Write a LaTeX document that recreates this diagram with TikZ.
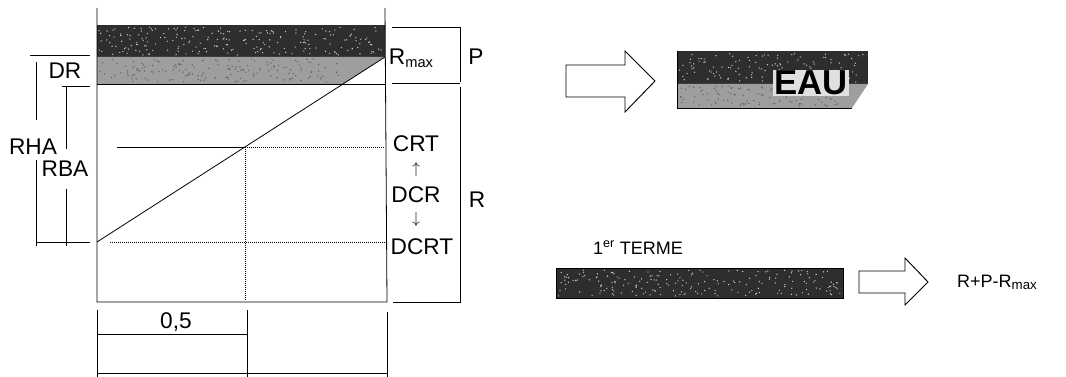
\documentclass[tikz,border=0pt]{standalone}
\usepackage{fontspec}
\setmainfont{Liberation Sans}
\usepackage{tikz}

\begin{document}
\begin{tikzpicture}[x=0.75pt, y=-0.75pt, line width=0.6pt,
  lab/.style={font=\fontsize{17}{19}\selectfont, inner sep=0pt},
  sml/.style={font=\fontsize{13.5}{15}\selectfont, inner sep=0pt},
  arr/.style={font=\fontsize{13}{14}\selectfont, inner sep=0pt},
  darkband/.style={fill=black!82},
  lightband/.style={fill=black!38},
  speck/.style={fill=white!80!black},
  dotline/.style={densely dotted, line width=0.5pt},
  blockarrow/.style={draw, fill=white, line width=0.7pt}]
\useasboundingbox (0,0) rectangle (1066,377);
\pgfmathsetseed{7}
% reservoir
\fill[darkband] (97,25) rectangle (385,57);
\foreach \k in {1,...,220}
  \fill[speck] ({99+284*rnd},{27+28*rnd}) circle (0.7);
\fill[lightband] (97,57) -- (385,57) -- (343,84) -- (97,84) -- cycle;
\foreach \k in {1,...,160}
  \fill[black!60] ({99+240*rnd},{59+23*rnd}) circle (0.8);
\draw (97,8) -- (97,302) -- (387,302) -- (385,8);
\draw (97,84) -- (385,84);
\draw (97,242) -- (385,57);
\draw (117,147) -- (245,147);
\draw[dotline] (245,147) -- (385,147);
\draw[dotline] (245,147) -- (245,300);
\draw[dotline] (110,242) -- (385,242);
% left dimensions
\node[lab] (dr) at (65,71) {DR};
\node[lab] (rha) at (33,147) {RHA};
\node[lab] (rba) at (65,169) {RBA};
\draw (30,55) -- (90,55);
\draw (62,86) -- (90,86);
\draw (36,62) -- (36,120);
\draw (36,160) -- (36,242);
\draw (66,86) -- (66,149);
\draw (66,189) -- (66,242);
\draw (36,242) -- (90,242);
\draw (36,239) -- (36,246) (66,239) -- (66,246);
% right column
\node[lab] (rmax) at (411,58) {R\raisebox{-0.25ex}{\fontsize{11}{12}\selectfont max}};
\node[lab] (p) at (476,57) {P};
\node[lab] (crt) at (416,144) {CRT};
\node[arr] (up) at (416,170) {$\uparrow$};
\node[lab] (dcr) at (416,195) {DCR};
\node[arr] (down) at (416,220) {$\downarrow$};
\node[lab] (dcrt) at (422,247) {DCRT};
\node[lab] (r) at (477,200) {R};
\draw (392,27) -- (460,27) -- (460,82);
\draw (392,83) -- (460,83);
\draw (460,87) -- (460,302) -- (393,302);
% bottom dimensions
\node[lab] (half) at (176,322) {0,5};
\draw (97,310) -- (97,377);
\draw (247,310) -- (247,377);
\draw (387,312) -- (387,377);
\draw (97,334) -- (247,334);
\draw (97,373) -- (387,373);
% eau
\draw[blockarrow] (566,65) -- (625,65) -- (625,51) -- (655,81) -- (625,112) -- (625,97) -- (566,97) -- cycle;
\fill[darkband] (677,51) rectangle (868,84);
\foreach \k in {1,...,120}
  \fill[speck] ({679+186*rnd},{53+29*rnd}) circle (0.7);
\fill[lightband] (677,84) -- (868,84) -- (852,108) -- (677,108) -- cycle;
\foreach \k in {1,...,110}
  \fill[black!60] ({679+170*rnd},{86+20*rnd}) circle (0.8);
\draw (677,51) -- (677,108) -- (852,108);
\node[font=\fontsize{26}{28}\selectfont\bfseries, fill=black!12, inner sep=1pt] (eau) at (811,83) {EAU};
% premier terme
\node[sml] (terme) at (638,248) {1\textsuperscript{er} TERME};
\fill[darkband] (556,268) rectangle (843,298);
\foreach \k in {1,...,200}
  \fill[speck] ({558+283*rnd},{270+26*rnd}) circle (0.7);
\draw (556,268) rectangle (843,298);
\draw[blockarrow] (859,271) -- (905,271) -- (905,258) -- (928,282) -- (905,305) -- (905,293) -- (859,293) -- cycle;
\node[sml] (res) at (997,282) {R+P-R\raisebox{-0.2ex}{\fontsize{10}{11}\selectfont max}};
\end{tikzpicture}
\end{document}
